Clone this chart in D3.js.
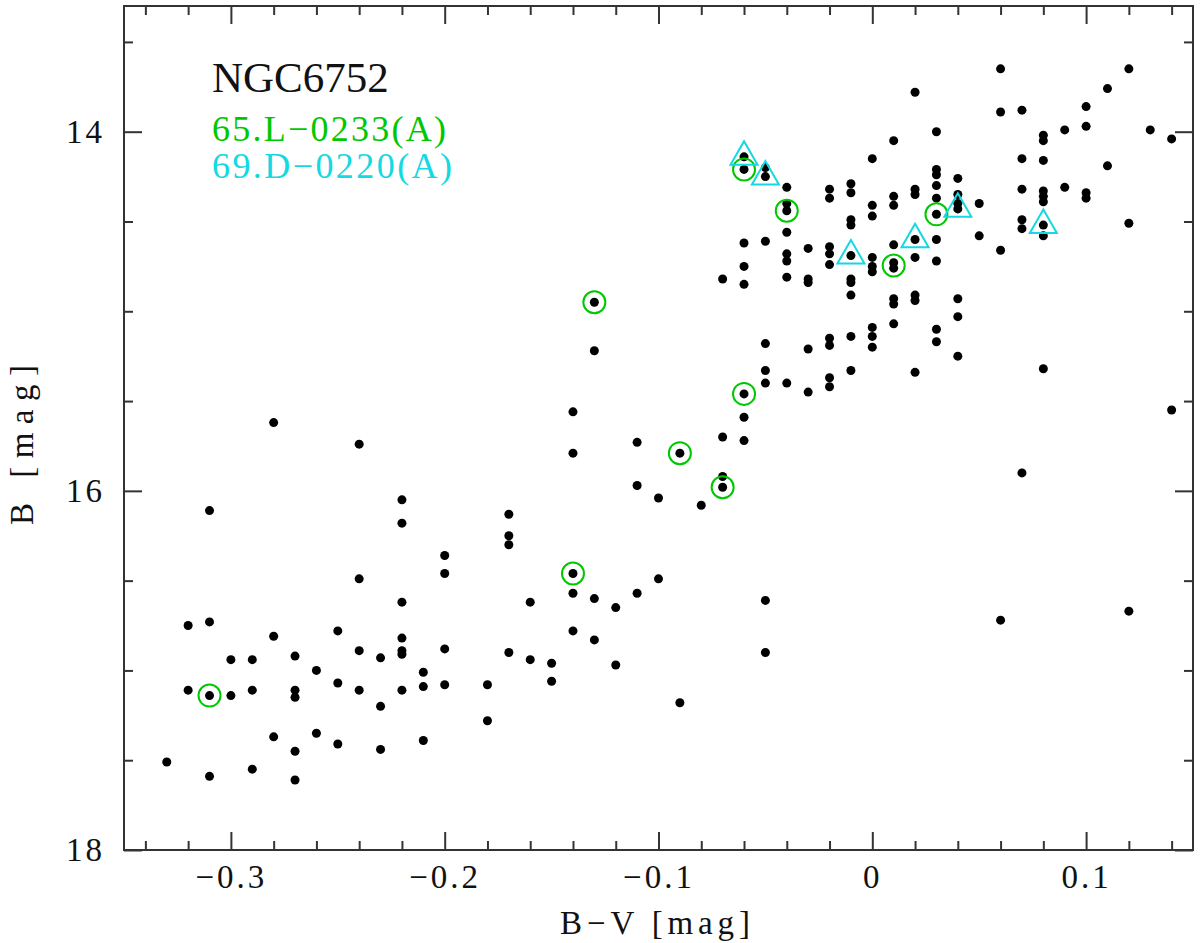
<!DOCTYPE html>
<html><head><meta charset="utf-8">
<script src="https://cdn.jsdelivr.net/npm/d3@7"></script>
<style>
html,body{margin:0;padding:0;background:#fff;}
svg{display:block;}
text{font-family:"Liberation Serif","Times New Roman",serif;}
</style></head><body>
<svg id="chart" width="1200" height="943"></svg>
<script>
// ---- tick labels / ticks ----
const xMajorTicks = [-0.3, -0.2, -0.1, 0, 0.1];
const xMinorTicks = [-0.34,-0.32,-0.28,-0.26,-0.24,-0.22,-0.18,-0.16,-0.14,-0.12,-0.08,-0.06,-0.04,-0.02,0.02,0.04,0.06,0.08,0.12,0.14];
const yMajorTicks = [14, 16, 18];
const yMinorTicks = [13.5, 14.5, 15, 15.5, 16.5, 17, 17.5];

// ---- data: [B-V, B] ----
const stars = [
 [-0.33,17.51],
 [-0.32,16.75],[-0.32,17.11],
 [-0.31,16.11],[-0.31,16.73],[-0.31,17.14],[-0.31,17.59],
 [-0.30,16.94],[-0.30,17.14],
 [-0.29,16.94],[-0.29,17.11],[-0.29,17.55],
 [-0.28,15.62],[-0.28,16.81],[-0.28,17.37],
 [-0.27,16.92],[-0.27,17.11],[-0.27,17.15],[-0.27,17.45],[-0.27,17.61],
 [-0.26,17.00],[-0.26,17.35],
 [-0.25,16.78],[-0.25,17.07],[-0.25,17.41],
 [-0.24,15.74],[-0.24,16.49],[-0.24,16.89],[-0.24,17.11],
 [-0.23,16.93],[-0.23,17.20],[-0.23,17.44],
 [-0.22,16.05],[-0.22,16.18],[-0.22,16.62],[-0.22,16.82],[-0.22,16.89],[-0.22,16.91],[-0.22,17.11],
 [-0.21,17.01],[-0.21,17.09],[-0.21,17.39],
 [-0.20,16.36],[-0.20,16.46],[-0.20,16.88],[-0.20,17.08],
 [-0.18,17.08],[-0.18,17.28],
 [-0.17,16.13],[-0.17,16.25],[-0.17,16.30],[-0.17,16.90],
 [-0.16,16.62],[-0.16,16.94],
 [-0.15,16.96],[-0.15,17.06],
 [-0.14,15.56],[-0.14,15.79],[-0.14,16.46],[-0.14,16.57],[-0.14,16.78],
 [-0.13,14.95],[-0.13,15.22],[-0.13,16.60],[-0.13,16.83],
 [-0.12,16.65],[-0.12,16.97],
 [-0.11,15.73],[-0.11,15.97],[-0.11,16.57],
 [-0.10,16.04],[-0.10,16.49],
 [-0.09,15.79],[-0.09,17.18],
 [-0.08,16.08],
 [-0.07,14.82],[-0.07,15.70],[-0.07,15.92],[-0.07,15.98],
 [-0.06,14.14],[-0.06,14.21],[-0.06,14.62],[-0.06,14.75],[-0.06,14.85],[-0.06,15.46],[-0.06,15.59],[-0.06,15.72],
 [-0.05,14.20],[-0.05,14.25],[-0.05,14.61],[-0.05,15.18],[-0.05,15.33],[-0.05,15.40],[-0.05,16.61],[-0.05,16.90],
 [-0.04,14.31],[-0.04,14.40],[-0.04,14.44],[-0.04,14.56],[-0.04,14.68],[-0.04,14.72],[-0.04,14.81],[-0.04,15.40],
 [-0.03,14.65],[-0.03,14.82],[-0.03,14.84],[-0.03,15.21],[-0.03,15.45],
 [-0.02,14.32],[-0.02,14.37],[-0.02,14.64],[-0.02,14.68],[-0.02,14.74],[-0.02,15.15],[-0.02,15.19],[-0.02,15.37],[-0.02,15.42],
 [-0.01,14.29],[-0.01,14.34],[-0.01,14.49],[-0.01,14.52],[-0.01,14.69],[-0.01,14.82],[-0.01,14.84],[-0.01,14.91],[-0.01,15.14],[-0.01,15.33],
 [0.00,14.15],[0.00,14.41],[0.00,14.47],[0.00,14.70],[0.00,14.75],[0.00,14.78],[0.00,15.09],[0.00,15.14],[0.00,15.20],
 [0.01,14.05],[0.01,14.36],[0.01,14.41],[0.01,14.63],[0.01,14.73],[0.01,14.76],[0.01,14.93],[0.01,14.96],[0.01,15.07],
 [0.02,13.78],[0.02,14.32],[0.02,14.35],[0.02,14.60],[0.02,14.70],[0.02,14.91],[0.02,14.94],[0.02,15.34],
 [0.03,14.00],[0.03,14.21],[0.03,14.24],[0.03,14.30],[0.03,14.37],[0.03,14.46],[0.03,14.60],[0.03,14.72],[0.03,15.10],[0.03,15.17],
 [0.04,14.26],[0.04,14.35],[0.04,14.40],[0.04,14.43],[0.04,14.93],[0.04,15.03],[0.04,15.25],
 [0.05,14.40],[0.05,14.58],
 [0.06,13.65],[0.06,13.89],[0.06,14.66],[0.06,16.72],
 [0.07,13.88],[0.07,14.15],[0.07,14.32],[0.07,14.49],[0.07,14.54],[0.07,15.90],
 [0.08,14.02],[0.08,14.05],[0.08,14.16],[0.08,14.33],[0.08,14.36],[0.08,14.39],[0.08,14.52],[0.08,14.58],[0.08,15.32],
 [0.09,13.99],[0.09,14.31],
 [0.10,13.86],[0.10,13.97],[0.10,14.34],[0.10,14.37],
 [0.11,13.76],[0.11,14.19],
 [0.12,13.65],[0.12,14.51],[0.12,16.67],
 [0.13,13.99],
 [0.14,14.04],[0.14,15.55]
];
// 65.L-0233(A) members (green circles)
const runA = [[-0.31,17.14],[-0.14,16.46],[-0.13,14.95],[-0.09,15.79],[-0.07,15.98],
              [-0.06,15.46],[-0.06,14.21],[-0.04,14.44],[0.01,14.745],[0.03,14.46]];
// 69.D-0220(A) members (cyan triangles)
const runB = [[-0.06,14.14],[-0.05,14.25],[-0.01,14.69],[0.02,14.60],[0.04,14.43],[0.08,14.52]];

const clusterName = "NGC6752";
const runLabels = ["65.L\u22120233(A)", "69.D\u22120220(A)"];
const xTitle = "B\u2212V [mag]";
const yTitle = "B [mag]";

// ---- layout ----
const L = 124, R = 1193, T = 6, B = 850;
const GREEN = "#00c800", CYAN = "#14d8e2", AX = "#333";

const svg = d3.select("#chart");
const x = d3.scaleLinear().domain([-0.35, 0.15]).range([L, R]);
const y = d3.scaleLinear().domain([13.3, 18]).range([T, B]);

const fmt = d => d === 0 ? "0" : d3.format(".1f")(d);

function styleAxis(g){
  g.select(".domain").remove();
  g.selectAll(".tick line").attr("stroke", AX).attr("stroke-width", 2);
  g.selectAll(".tick text").attr("fill", "#111").attr("font-size", 33)
   .attr("letter-spacing", "3px")
   .attr("font-family", '"Liberation Serif","Times New Roman",serif');
}

// bottom
svg.append("g").attr("transform", `translate(0,${B})`)
  .call(d3.axisBottom(x).tickValues(xMajorTicks).tickSize(-18).tickPadding(15).tickFormat(fmt)).call(styleAxis);
svg.append("g").attr("transform", `translate(0,${B})`)
  .call(d3.axisBottom(x).tickValues(xMinorTicks).tickSize(-9).tickFormat("")).call(styleAxis);
// top
svg.append("g").attr("transform", `translate(0,${T})`)
  .call(d3.axisTop(x).tickValues(xMajorTicks).tickSize(-18).tickFormat("")).call(styleAxis);
svg.append("g").attr("transform", `translate(0,${T})`)
  .call(d3.axisTop(x).tickValues(xMinorTicks).tickSize(-9).tickFormat("")).call(styleAxis);
// left
svg.append("g").attr("transform", `translate(${L},0)`)
  .call(d3.axisLeft(y).tickValues(yMajorTicks).tickSize(-18).tickPadding(19).tickFormat(d3.format("d"))).call(styleAxis);
svg.append("g").attr("transform", `translate(${L},0)`)
  .call(d3.axisLeft(y).tickValues(yMinorTicks).tickSize(-9).tickFormat("")).call(styleAxis);
// right
svg.append("g").attr("transform", `translate(${R},0)`)
  .call(d3.axisRight(y).tickValues(yMajorTicks).tickSize(-18).tickFormat("")).call(styleAxis);
svg.append("g").attr("transform", `translate(${R},0)`)
  .call(d3.axisRight(y).tickValues(yMinorTicks).tickSize(-9).tickFormat("")).call(styleAxis);

// frame
svg.append("rect").attr("x", L).attr("y", T).attr("width", R - L).attr("height", B - T)
  .attr("fill", "none").attr("stroke", AX).attr("stroke-width", 2);

// stars
svg.append("g").selectAll("circle").data(stars).join("circle")
  .attr("cx", d => x(d[0])).attr("cy", d => y(d[1])).attr("r", 4.5).attr("fill", "#000");

// green circles
svg.append("g").selectAll("circle").data(runA).join("circle")
  .attr("cx", d => x(d[0])).attr("cy", d => y(d[1])).attr("r", 11)
  .attr("fill", "none").attr("stroke", GREEN).attr("stroke-width", 2);

// cyan triangles (centroid on point)
const side = 27, h = side * Math.sqrt(3) / 2;
const triPath = `M0,${-2*h/3}L${side/2},${h/3}L${-side/2},${h/3}Z`;
svg.append("g").selectAll("path").data(runB).join("path")
  .attr("transform", d => `translate(${x(d[0])},${y(d[1])})`)
  .attr("d", triPath).attr("fill", "none").attr("stroke", CYAN).attr("stroke-width", 2);

// in-plot labels
svg.append("text").attr("x", 212).attr("y", 92).attr("font-size", 43).attr("fill", "#111").text(clusterName);
svg.append("text").attr("x", 212).attr("y", 141).attr("font-size", 36).attr("fill", GREEN)
  .attr("textLength", 234).attr("lengthAdjust", "spacing").text(runLabels[0]);
svg.append("text").attr("x", 212).attr("y", 178).attr("font-size", 36).attr("fill", CYAN)
  .attr("textLength", 240).attr("lengthAdjust", "spacing").text(runLabels[1]);

// axis titles
svg.append("text").attr("x", 655).attr("y", 934).attr("text-anchor", "middle")
  .attr("font-size", 33).attr("fill", "#111")
  .attr("textLength", 190).attr("lengthAdjust", "spacing").text(xTitle);
svg.append("text").attr("transform", "translate(33,445) rotate(-90)").attr("text-anchor", "middle")
  .attr("font-size", 33).attr("fill", "#111")
  .attr("textLength", 160).attr("lengthAdjust", "spacing").text(yTitle);
</script>
</body></html>
